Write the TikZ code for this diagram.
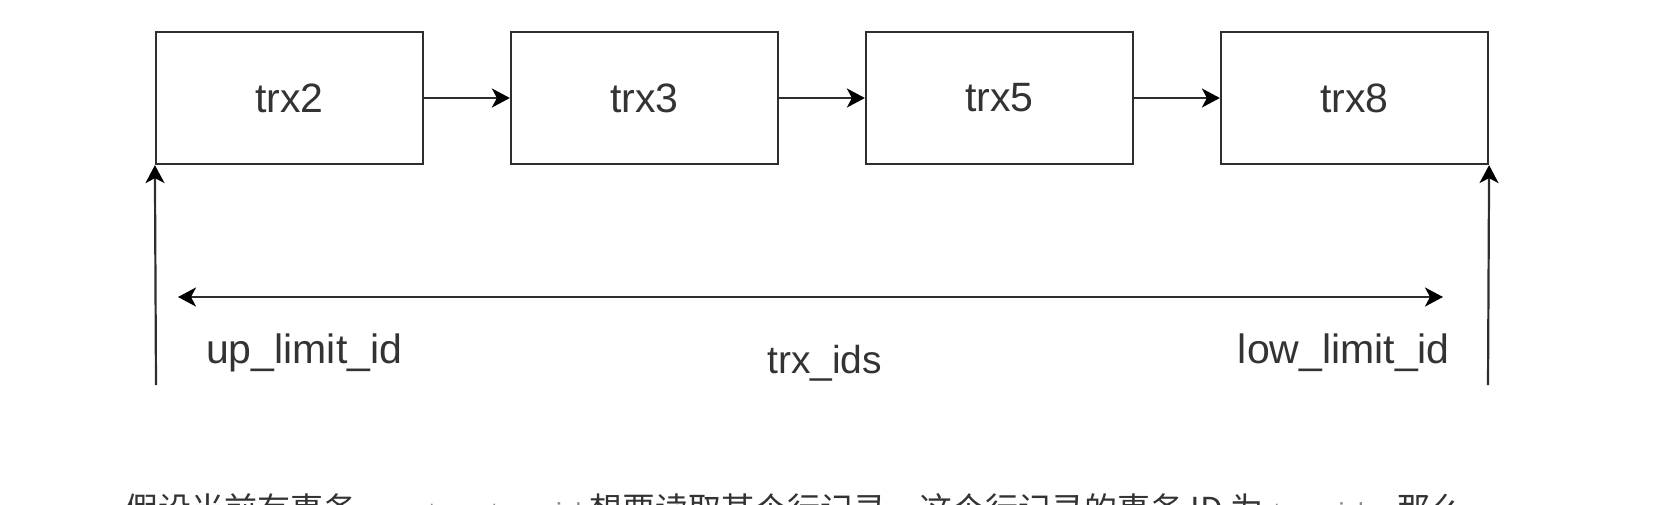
\documentclass[tikz,border=0pt]{standalone}
\usepackage{fontspec}
\setmainfont{Liberation Sans}
\newfontfamily\cjk{Noto Sans CJK SC}
\newfontfamily\codefont{Liberation Mono}
\usetikzlibrary{arrows.meta}
\definecolor{ln}{HTML}{2E2E2E}
\definecolor{tx}{HTML}{333333}
\definecolor{codegray}{HTML}{8A8A8A}
\tikzset{
  trxbox/.style={draw=ln, line width=2.2pt, minimum width=267pt, minimum height=132pt, inner sep=0pt,
    font=\fontsize{41}{48}\selectfont, text=tx},
  tipst/.style={Stealth[length=18pt,width=19pt,inset=5pt,fill=black]},
  conn/.style={draw=ln, line width=2.2pt, -{Stealth[length=18pt,width=19pt,inset=5pt,color=black]}},
  lbl/.style={inner sep=0pt, font=\fontsize{41}{48}\selectfont, text=tx}
}
\begin{document}
\begin{tikzpicture}[x=1pt,y=-1pt]
\useasboundingbox (0,0) rectangle (1654,504);
\clip (0,0) rectangle (1654,504);
\node[trxbox] (t2) at (289.5,98) {trx2};
\node[trxbox] (t3) at (644.5,98) {trx3};
\node[trxbox] (t5) at (999.5,98) {trx5};
\node[trxbox] (t8) at (1354.5,98) {trx8};
\draw[conn] (t2) -- (t3);
\draw[conn] (t3) -- (t5);
\draw[conn] (t5) -- (t8);
\coordinate (lb) at (156,385);
\coordinate (rb) at (1488,385);
\draw[conn] (lb) -- (t2.south west);
\draw[conn] (rb) -- (t8.south east);
\coordinate (da) at (178,297);
\coordinate (db) at (1443,297);
\draw[conn, {Stealth[length=18pt,width=19pt,inset=5pt,color=black]}-{Stealth[length=18pt,width=19pt,inset=5pt,color=black]}] (da) -- (db);
\node[lbl, anchor=base west] (up) at (206,363) {up\_limit\_id};
\node[lbl, anchor=base east] (low) at (1450,363) {low\_limit\_id};
\node[lbl, anchor=base west, font=\fontsize{39}{46}\selectfont] (ids) at (767,373) {trx\_ids};
\node[inner sep=0pt, anchor=base west, text=tx, font=\fontsize{33}{38}\selectfont] (para) at (125,521)
  {\cjk 假设当前有事务 {\codefont\fontsize{26}{30}\selectfont\color{codegray}creator\_trx\_id} 想要读取某个行记录，这个行记录的事务 ID 为 {\codefont\fontsize{26}{30}\selectfont\color{codegray}trx\_id}，那么};
\end{tikzpicture}
\end{document}
